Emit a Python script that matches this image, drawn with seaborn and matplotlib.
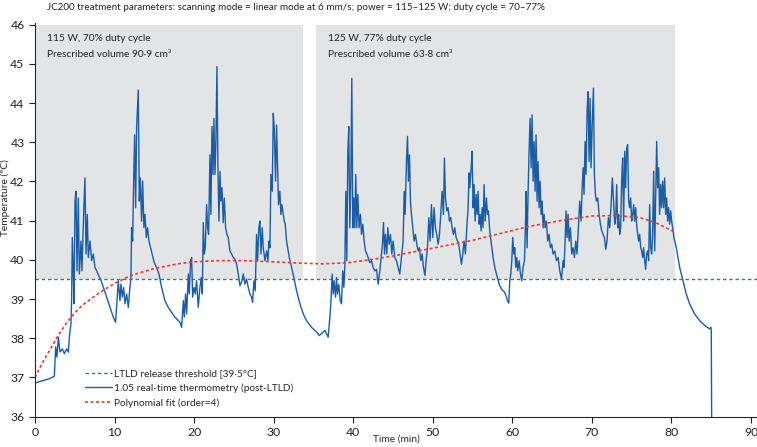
import numpy as np
import pandas as pd
import seaborn as sns
import matplotlib.pyplot as plt

# real-time thermometry trace (min, degC)
time_min = [
    0.00, 0.84, 1.67, 2.43, 2.60, 2.76, 2.93, 3.14, 3.43, 3.69, 3.98, 4.19, 4.36, 4.52, 4.61, 4.69,
    4.82, 4.90, 5.03, 5.15, 5.28, 5.44, 5.57, 5.78, 5.90, 6.11, 6.28, 6.41, 6.57, 6.70, 6.91, 7.12,
    7.33, 7.54, 7.75, 8.38, 9.00, 9.42, 9.84, 10.13, 10.47, 10.68, 10.80, 10.97, 11.14, 11.31, 11.52,
    11.73, 11.93, 12.06, 12.14, 12.27, 12.40, 12.52, 12.65, 12.77, 12.98, 13.11, 13.23, 13.40, 13.53,
    13.69, 13.82, 13.99, 14.15, 14.32, 14.53, 14.74, 14.99, 15.28, 15.58, 15.91, 16.33, 16.75, 17.17,
    17.59, 18.22,
    18.43, 18.64, 18.76, 18.93, 19.06, 19.27, 19.39, 19.56, 19.69, 19.81, 19.98, 20.15, 20.31, 20.52,
    20.73, 20.90, 21.03, 21.15, 21.28, 21.40, 21.57, 21.70, 21.82, 21.99, 22.11, 22.24, 22.37, 22.49,
    22.62, 22.74, 22.87, 22.99, 23.12, 23.25, 23.37, 23.50, 23.66, 23.79, 23.96, 24.12, 24.29, 24.50,
    24.71, 24.92, 25.13, 25.34, 25.55, 25.76, 26.01, 26.18, 26.39, 26.60, 26.80, 27.01, 27.22, 27.35,
    27.52, 27.68, 27.85, 27.98, 28.14, 28.27, 28.40, 28.56, 28.69, 28.90, 29.11, 29.28, 29.40, 29.53,
    29.65, 29.82, 29.95, 30.07, 30.24, 30.36, 30.49, 30.61, 30.78, 30.91, 31.03, 31.20, 31.33, 31.45,
    31.62, 31.96, 32.25, 32.54, 32.88, 33.30, 33.72, 34.13, 34.76, 35.39, 35.72, 36.02, 36.44,
    36.85, 37.06, 37.18, 37.35, 37.48, 37.60, 37.77, 37.90, 38.02, 38.19, 38.36, 38.52, 38.69, 38.82,
    38.94, 39.07, 39.19, 39.32, 39.44, 39.57, 39.70, 39.82, 39.95, 40.07, 40.20, 40.32, 40.45, 40.58,
    40.74, 40.91, 41.04, 41.20, 41.37, 41.54, 41.71, 41.87, 42.08, 42.29, 42.50, 42.71, 42.92, 43.13,
    43.34, 43.55, 43.67, 43.80, 43.93, 44.05, 44.22, 44.34, 44.51, 44.68, 44.85, 45.01, 45.22, 45.43,
    45.64, 45.85, 46.06, 46.27, 46.40, 46.52, 46.69, 46.82, 46.94, 47.07, 47.19, 47.32, 47.49, 47.65,
    47.82, 47.99, 48.16, 48.32, 48.49, 48.66, 48.83, 49.01, 49.16, 49.33, 49.50, 49.66, 49.83, 50.00,
    50.16, 50.33, 50.50, 50.67, 50.84, 51.00, 51.17, 51.34, 51.46, 51.59, 51.76, 51.92, 52.09, 52.26,
    52.43, 52.59, 52.76, 52.93, 53.10, 53.26, 53.43, 53.60, 53.77, 53.93, 54.10, 54.27, 54.44, 54.56,
    54.65, 54.82, 54.94, 55.07, 55.19, 55.32, 55.45, 55.57, 55.70, 55.82, 55.95, 56.07, 56.20, 56.32,
    56.45, 56.58, 56.74, 56.87, 56.99, 57.16, 57.37, 57.58, 57.79, 58.00, 58.21, 58.42, 58.63, 58.84,
    59.05, 59.26, 59.47, 59.55, 59.68, 59.80, 59.93, 60.05, 60.18, 60.30, 60.43, 60.55, 60.68, 60.85,
    61.02, 61.18, 61.35, 61.52, 61.64, 61.73, 61.85, 61.98, 62.10, 62.23, 62.36, 62.48, 62.61, 62.73,
    62.86, 62.98, 63.11, 63.23, 63.36, 63.49, 63.61, 63.74, 63.86, 63.99, 64.11, 64.28, 64.45, 64.62,
    64.78, 64.95, 65.12, 65.33, 65.54, 65.75, 65.96, 66.17, 66.38, 66.50, 66.63, 66.75, 66.88, 67.00,
    67.13, 67.30, 67.46, 67.63, 67.80, 67.97, 68.13, 68.30, 68.47, 68.64, 68.76, 68.89, 69.01, 69.14,
    69.26, 69.39, 69.52, 69.64, 69.77, 69.89, 70.02, 70.19, 70.31, 70.44, 70.56, 70.73, 70.90, 71.07,
    71.23, 71.40, 71.57, 71.74, 71.90, 72.07, 72.24, 72.41, 72.57, 72.74, 72.87,
    72.99, 73.11, 73.24, 73.36, 73.49, 73.61, 73.74, 73.86, 73.99, 74.12, 74.24, 74.37, 74.49, 74.62,
    74.74, 74.87, 75.00, 75.12, 75.25, 75.37, 75.50, 75.62, 75.75, 75.88, 76.00, 76.13, 76.25, 76.38,
    76.50, 76.63, 76.75, 76.88, 77.01, 77.13, 77.26, 77.38, 77.51, 77.63, 77.76, 77.89, 78.01, 78.14,
    78.26, 78.39, 78.51, 78.64, 78.76, 78.89, 79.02, 79.14, 79.27, 79.39, 79.52, 79.64, 79.77, 79.90,
    80.02, 80.15, 80.31, 80.61, 81.03, 81.44, 81.86, 82.28, 82.91, 83.54, 84.17, 84.79, 84.96, 85.00,
    85.05,
]
temp_c = [
    36.86, 36.91, 36.96, 37.03, 37.78, 37.52, 38.03, 37.65, 37.73, 37.61, 37.73, 37.65, 38.12, 38.37, 39.05, 40.57,
    39.64, 38.88, 41.50, 41.75, 39.72, 41.58, 39.64, 40.48, 39.72, 41.16, 42.09, 40.15, 41.16, 40.06, 40.48, 39.98,
    40.15, 39.81, 39.72, 39.43, 39.05, 38.79, 38.54, 38.41, 39.47, 38.96, 39.38, 39.05, 39.30, 38.88, 39.13,
    38.79, 39.30, 39.55, 40.82, 40.48, 42.01, 43.19, 41.33, 43.36, 44.33, 41.50, 42.09, 40.99, 42.01,
    40.82, 41.16, 40.57, 40.82, 40.48, 40.31, 40.15, 39.93, 39.81, 39.64, 39.30, 38.96, 38.79, 38.66,
    38.54, 38.41,
    38.28, 38.96, 38.54, 39.13, 38.62, 39.64, 39.13, 39.98, 40.06, 39.05, 39.30, 39.13, 39.47, 38.79,
    39.30, 39.55, 39.13, 40.95, 40.15, 40.31, 41.41, 40.82, 40.65, 42.68, 41.16, 43.40, 42.18, 43.61,
    42.18, 43.02, 44.93, 42.35, 40.99, 42.26, 41.50, 41.84, 40.95, 41.58, 40.82, 40.65, 40.57, 40.23,
    40.15, 40.06, 40.02, 39.89, 39.64, 39.34, 39.47, 39.64, 39.38, 39.51, 39.30, 39.13, 39.05, 38.92,
    39.47, 39.21, 40.65, 39.98, 40.82, 40.99, 40.15, 40.82, 40.31, 39.98, 40.23, 39.98, 40.48, 40.31,
    42.18, 41.75, 43.74, 43.36, 42.01, 43.44, 42.35, 41.41, 41.75, 41.16, 41.41, 41.16, 40.99, 40.91,
    40.48, 40.06, 39.81, 39.55, 39.21, 38.88, 38.62, 38.45, 38.28, 38.16, 38.07, 38.12, 38.20,
    38.03, 38.54, 38.88, 39.64, 39.13, 39.47, 39.05, 39.55, 39.13, 39.38, 38.96, 38.88, 39.72, 39.30,
    39.81, 41.75, 39.98, 42.77, 43.40, 40.82, 42.01, 44.63, 40.82, 41.58, 40.82, 42.18, 40.82, 41.67,
    40.82, 41.16, 40.65, 40.91, 40.48, 40.23, 40.15, 40.06, 39.93, 39.98, 39.81, 39.72, 39.76, 39.38,
    39.72, 40.15, 40.40, 40.95, 40.15, 40.65, 40.15, 40.82, 40.40, 40.65, 40.15, 40.48, 40.06, 39.98,
    39.81, 39.64, 40.06, 40.48, 41.75, 41.16, 42.51, 43.15, 42.01, 42.68, 41.50, 41.16, 40.82, 40.48,
    40.65, 40.40, 40.23, 40.31, 39.98, 40.15, 39.81, 39.60, 39.98, 40.31, 41.08, 40.48, 41.41, 40.57,
    41.33, 40.82, 40.65, 40.40, 40.65, 41.16, 41.75, 41.16, 42.60, 41.58, 41.25, 41.33, 40.99, 41.08,
    40.82, 40.65, 40.82, 40.57, 40.48, 40.40, 40.15, 39.89, 40.15, 40.48, 40.15, 40.82, 41.33, 42.22,
    41.84, 42.35, 42.77, 41.33, 41.92, 40.99, 41.67, 41.16, 41.75, 40.91, 41.16, 40.74, 41.33, 40.82,
    41.92, 40.99, 41.58, 41.16, 41.25, 40.74, 40.40, 40.06, 39.81, 39.64, 39.47, 39.34, 39.26, 39.21,
    39.17, 39.05, 38.92, 38.90, 39.47, 39.64, 39.98, 40.57, 40.15, 40.31, 39.81, 40.06, 39.72, 39.98,
    39.64, 39.47, 39.81, 39.98, 40.82, 41.75, 40.31, 41.75, 42.77, 43.61, 42.35, 43.70, 42.01, 43.02,
    41.75, 43.19, 41.50, 42.51, 41.33, 42.01, 41.16, 41.50, 40.82, 41.16, 40.82, 40.99, 40.48, 40.65,
    40.31, 40.40, 40.15, 40.23, 39.98, 40.06, 39.72, 39.51, 39.98, 39.81, 40.48, 41.25, 40.57, 41.16,
    40.48, 40.82, 40.15, 40.31, 40.06, 40.48, 40.15, 40.82, 41.50, 40.99, 41.75, 42.35, 41.67, 43.02,
    42.18, 43.78, 44.29, 42.51, 44.12, 42.35, 43.36, 44.38, 42.18, 41.67, 41.50, 41.58, 41.16, 40.91,
    40.74, 40.65, 40.57, 40.27, 40.48, 41.08, 40.82, 41.41, 42.09, 41.41, 40.91,
    41.08, 41.92, 40.82, 41.16, 40.65, 40.82, 42.01, 42.60, 40.99, 42.77, 41.84, 42.85, 42.94, 41.50,
    41.33, 41.58, 40.99, 41.16, 41.41, 40.99, 41.33, 40.91, 40.65, 40.48, 40.65, 40.31, 40.23, 40.06,
    40.31, 39.98, 39.76, 40.15, 40.23, 39.98, 41.41, 40.31, 40.15, 40.65, 42.26, 40.23, 41.50, 43.02,
    41.84, 42.35, 41.16, 41.92, 41.33, 42.01, 41.33, 42.09, 41.16, 41.58, 40.99, 41.33, 40.91, 41.25,
    40.99, 40.82, 40.57, 40.31, 39.81, 39.47, 39.13, 38.88, 38.62, 38.45, 38.33, 38.24, 38.28, 38.20,
    36.00,
]

# order-4 polynomial fit curve
fit_time = [0, 1, 2, 3, 4, 5, 6, 8, 10, 12, 15, 18, 20, 23, 26, 30, 33, 36, 39, 42, 45, 50, 55, 58,
            62, 66, 70, 73, 76, 78, 80.5]
fit_temp = [37.0, 37.4, 37.75, 38.1, 38.4, 38.65, 38.85, 39.15, 39.4, 39.6, 39.78, 39.9, 39.95, 39.98,
            39.98, 39.95, 39.92, 39.9, 39.92, 40.0, 40.1, 40.3, 40.5, 40.65, 40.85, 41.0, 41.12, 41.13,
            41.08, 40.95, 40.7]

threshold = 39.5
phase_start = [0, 35.3]
phase_end = [33.7, 80.4]
phase_lines = [["115 W, 70% duty cycle", "Prescribed volume 90·9 cm³"],
               ["125 W, 77% duty cycle", "Prescribed volume 63·8 cm³"]]

df = pd.DataFrame({"time": time_min, "temp": temp_c})
fit = pd.DataFrame({"time": fit_time, "temp": fit_temp})

sns.set_style("ticks")
plt.rcParams['font.family'] = ['Lato', 'DejaVu Sans']

fig = plt.figure(figsize=(7.57, 4.47), dpi=100)
ax = fig.add_axes([35 / 757, 1 - 416.7 / 447, 1 - 35 / 757, (416.7 - 22.7) / 447])

for s, e, txt in zip(phase_start, phase_end, phase_lines):
    ax.fill_between([s, e], threshold, 46, color="#e3e4e6", lw=0, zorder=0)
    ax.text(s + 1.5, 45.77, txt[0], fontsize=7.3, va="top", color="#222222")
    ax.text(s + 1.5, 45.77 - 0.42, txt[1], fontsize=7.3, va="top", color="#222222")

ax.axhline(threshold, color="#4b6f80", lw=1, ls=(0, (2.5, 2)), label="LTLD release threshold [39·5ºC]")
sns.lineplot(data=df, x="time", y="temp", ax=ax, color="#1a5da6", lw=1.0, estimator=None, sort=False,
             label="1.05 real-time thermometry (post-LTLD)")
sns.lineplot(data=fit, x="time", y="temp", ax=ax, color="#ee3a2c", lw=1.2, estimator=None,
             ls=(0, (1.8, 1.5)), label="Polynomial fit (order=4)")

ax.set_xlim(0, 90.75)
ax.set_ylim(36, 46.05)
ax.set_xticks(range(0, 91, 10))
ax.set_yticks(range(36, 47))
sns.despine(ax=ax)
ax.tick_params(labelsize=8.8, length=4, colors="#222222")
ax.set_xlabel("Time (min)", fontsize=7.3)
ax.set_ylabel("Temperature (ºC)", fontsize=7.3)
ax.xaxis.set_label_coords(0.5, -0.045)
ax.yaxis.set_label_coords(-0.035, 0.555)

ax.legend(loc="lower left", bbox_to_anchor=(0.057, 0.0), frameon=False, fontsize=7.3,
          handlelength=2.6, handletextpad=0.2, labelspacing=0.5)

fig.text(47 / 757, 1 - 8 / 447, "JC200 treatment parameters: scanning mode = linear mode at 6 mm/s; "
         "power = 115–125 W; duty cycle = 70–77%", fontsize=7.1, va="center", color="#222222")

fig.savefig("out.png", dpi=100)
